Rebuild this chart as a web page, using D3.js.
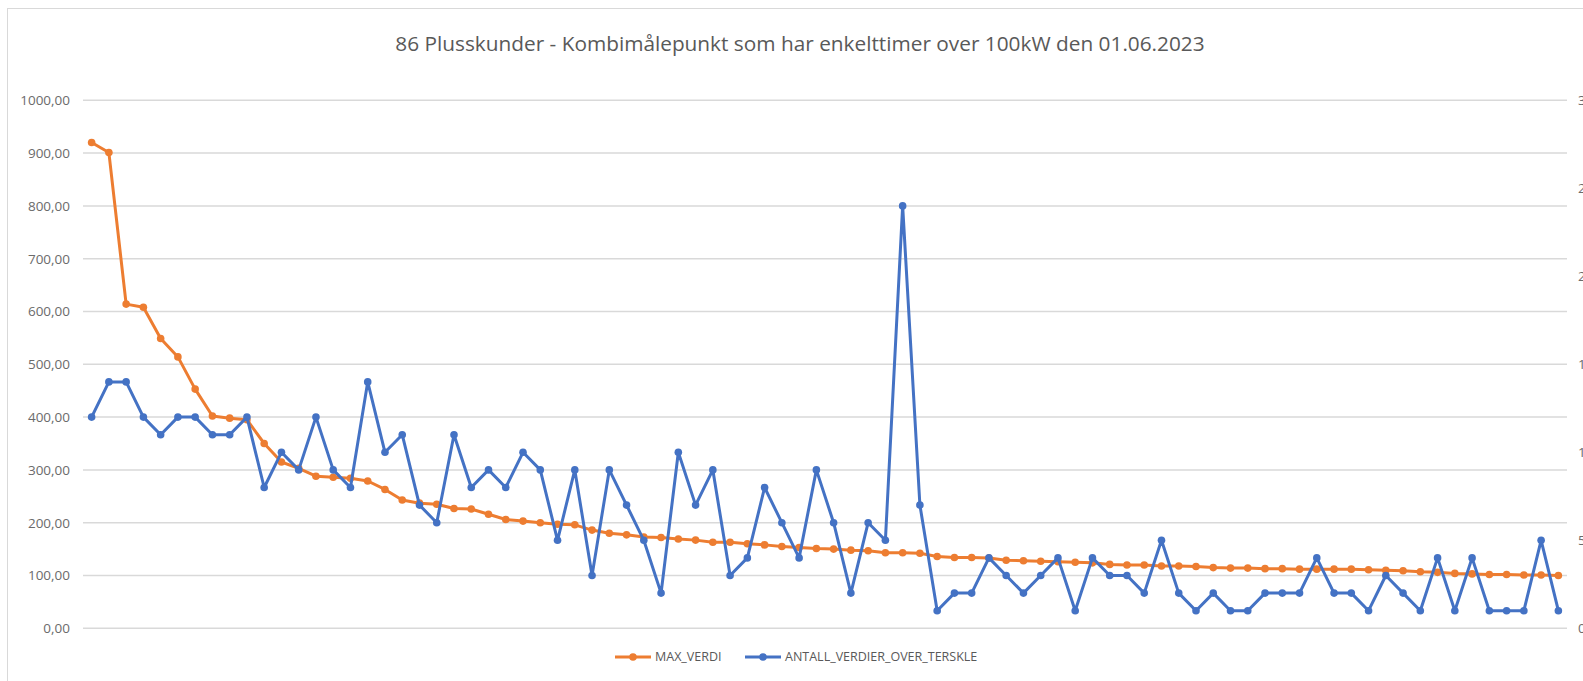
<!DOCTYPE html>
<html>
<head>
<meta charset="utf-8">
<script src="https://cdn.jsdelivr.net/npm/d3@7"></script>
<style>
  html, body { margin: 0; padding: 0; background: #fff; overflow: hidden; }
  svg { display: block; font-family: "Open Sans", sans-serif; }
</style>
</head>
<body>
<div id="chart"></div>
<script>
const WIDTH = 1583;
const HEIGHT = 681;

const TITLE = "86 Plusskunder - Kombimålepunkt som har enkelttimer over 100kW den 01.06.2023";
const SERIES_NAMES = ["MAX_VERDI", "ANTALL_VERDIER_OVER_TERSKLE"];

// left axis (kW) and right axis (count)
const LEFT_TICKS = [0, 100, 200, 300, 400, 500, 600, 700, 800, 900, 1000];
const RIGHT_TICKS = [0, 5, 10, 15, 20, 25, 30];

// one category per customer (no labels shown)
const categories = d3.range(1, 87);

const maxVerdi = [
  920, 901, 614, 608, 549, 514, 453, 402, 398, 395,
  350, 315, 303, 288, 286, 284, 279, 263, 243, 237,
  235, 227, 226, 216, 206, 203, 200, 197, 196, 186,
  180, 177, 173, 172, 169, 167, 163, 163, 160, 158,
  155, 153, 151, 150, 148, 147, 143, 143, 142, 136,
  134, 134, 133, 129, 128, 127, 126, 125, 124, 121,
  120, 120, 118, 118, 117, 115, 114, 114, 113, 113,
  112, 112, 112, 112, 111, 110, 109, 107, 106, 104,
  103, 102, 102, 101, 101, 100
];

const antallOverTerskel = [
  12, 14, 14, 12, 11, 12, 12, 11, 11, 12,
  8, 10, 9, 12, 9, 8, 14, 10, 11, 7,
  6, 11, 8, 9, 8, 10, 9, 5, 9, 3,
  9, 7, 5, 2, 10, 7, 9, 3, 4, 8,
  6, 4, 9, 6, 2, 6, 5, 24, 7, 1,
  2, 2, 4, 3, 2, 3, 4, 1, 4, 3,
  3, 2, 5, 2, 1, 2, 1, 1, 2, 2,
  2, 4, 2, 2, 1, 3, 2, 1, 4, 1,
  4, 1, 1, 1, 5, 1
];

const plot = { left: 83, right: 1567, top: 100.3, bottom: 628.3 };

const svg = d3.select("#chart").append("svg")
  .attr("width", WIDTH)
  .attr("height", HEIGHT);

// chart area border
svg.append("rect")
  .attr("x", 7.5).attr("y", 8.5)
  .attr("width", WIDTH + 20).attr("height", HEIGHT + 20)
  .attr("fill", "#fff")
  .attr("stroke", "#d9d9d9");

const x = d3.scaleBand().domain(categories).range([plot.left, plot.right]);
const yLeft = d3.scaleLinear().domain([0, 1000]).range([plot.bottom, plot.top]);
const yRight = d3.scaleLinear().domain([0, 30]).range([plot.bottom, plot.top]);

// gridlines
svg.append("g")
  .selectAll("line")
  .data(LEFT_TICKS)
  .join("line")
  .attr("x1", plot.left).attr("x2", plot.right)
  .attr("y1", d => yLeft(d)).attr("y2", d => yLeft(d))
  .attr("stroke", "#d9d9d9")
  .attr("stroke-width", 1.5);

// left axis labels
const fmt = d => d3.format(".2f")(d).replace(".", ",");
const leftAxis = svg.append("g")
  .attr("transform", `translate(${plot.left - 13},0)`)
  .call(d3.axisLeft(yLeft).tickValues(LEFT_TICKS).tickFormat(fmt).tickSize(0).tickPadding(0));
leftAxis.select(".domain").remove();
leftAxis.selectAll("text")
  .attr("fill", "#6b6b6b")
  .style("font-size", "13.5px")
  .style("font-family", "'Open Sans', sans-serif");

// right axis labels (cut by the window edge, as in the source)
const rightAxis = svg.append("g")
  .attr("transform", `translate(${plot.right + 11},0)`)
  .call(d3.axisRight(yRight).tickValues(RIGHT_TICKS).tickSize(0).tickPadding(0));
rightAxis.select(".domain").remove();
rightAxis.selectAll("text")
  .attr("fill", "#6b6b6b")
  .style("font-size", "13.5px")
  .style("font-family", "'Open Sans', sans-serif");

// title
svg.append("text")
  .attr("x", 800).attr("y", 51)
  .attr("text-anchor", "middle")
  .attr("fill", "#595959")
  .style("font-size", "20.8px")
  .text(TITLE);

const cx = (d, i) => x(categories[i]) + x.bandwidth() / 2;

const series = [
  { name: SERIES_NAMES[0], values: maxVerdi, scale: yLeft, color: "#ED7D31" },
  { name: SERIES_NAMES[1], values: antallOverTerskel, scale: yRight, color: "#4472C4" }
];

series.forEach(s => {
  const line = d3.line()
    .x(cx)
    .y(d => s.scale(d));

  svg.append("path")
    .datum(s.values)
    .attr("fill", "none")
    .attr("stroke", s.color)
    .attr("stroke-width", 3)
    .attr("stroke-linejoin", "round")
    .attr("d", line);

  svg.append("g")
    .selectAll("circle")
    .data(s.values)
    .join("circle")
    .attr("cx", cx)
    .attr("cy", d => s.scale(d))
    .attr("r", 3.8)
    .attr("fill", s.color);
});

// legend
const legendItems = [
  { name: SERIES_NAMES[0], color: "#ED7D31", x: 615 },
  { name: SERIES_NAMES[1], color: "#4472C4", x: 745 }
];
const legendY = 657;
const lg = svg.append("g").selectAll("g")
  .data(legendItems)
  .join("g")
  .attr("transform", d => `translate(${d.x},${legendY})`);

lg.append("line")
  .attr("x1", 0).attr("x2", 36)
  .attr("stroke", d => d.color)
  .attr("stroke-width", 3);
lg.append("circle")
  .attr("cx", 18).attr("r", 3.8)
  .attr("fill", d => d.color);
lg.append("text")
  .attr("x", 40).attr("dy", "0.35em")
  .attr("fill", "#595959")
  .style("font-size", "12.5px")
  .text(d => d.name);
</script>
</body>
</html>
